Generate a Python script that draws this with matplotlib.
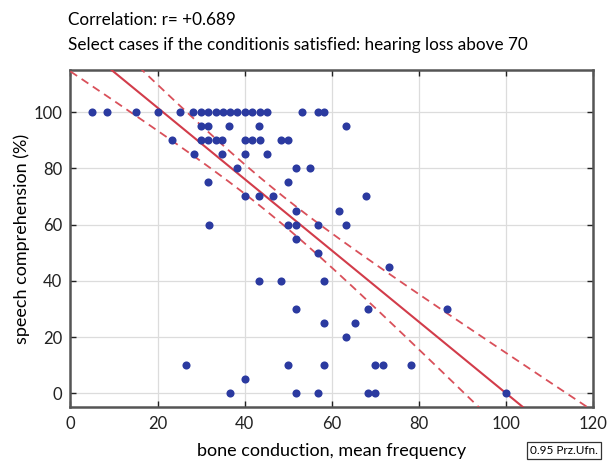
import numpy as np
import matplotlib
matplotlib.use("Agg")
import matplotlib.pyplot as plt

# bone conduction (x) values grouped by speech comprehension level (y)
rows = {
    100: [5.0, 8.3, 15.0, 20.0, 25.1, 28.1, 29.9, 31.6, 33.3, 35.0, 36.7, 38.3,
          40.0, 41.7, 43.4, 45.0, 53.2, 56.8, 58.3],
    95: [29.9, 31.6, 36.5, 43.3, 63.3],
    90: [23.4, 29.9, 31.6, 33.3, 34.9, 40.0, 41.7, 43.4, 48.4, 49.9],
    85: [28.4, 34.9, 40.0, 45.1],
    80: [38.3, 51.7, 54.9],
    75: [31.6, 49.9],
    70: [40.0, 43.3, 46.6, 67.8],
    65: [51.7, 61.7],
    60: [31.7, 49.9, 51.7, 56.8, 63.3],
    55: [51.7],
    50: [56.8],
    45: [73.2],
    40: [43.3, 48.4, 58.3],
    30: [51.7, 68.2, 86.5],
    25: [58.3, 65.2],
    20: [63.3],
    10: [26.6, 49.9, 58.3, 70.0, 71.7, 78.2],
    5: [40.0],
    0: [36.7, 51.7, 56.8, 68.2, 70.0, 99.9],
}
bone = np.array([x for y, xs in rows.items() for x in xs])
speech = np.array([y for y, xs in rows.items() for x in xs], dtype=float)

# regression line and 95% confidence band
fit_intercept = 127.0
fit_slope = -1.2705
band_center_x = 46.0
band_min_half = 5.0
band_spread = 0.062

x_ticks = [0, 20, 40, 60, 80, 100, 120]
y_ticks = [0, 20, 40, 60, 80, 100]
title1 = "Correlation: r= +0.689"
title2 = "Select cases if the conditionis satisfied: hearing loss above 70"

plt.rcParams['font.family'] = ['Lato', 'DejaVu Sans']

fig = plt.figure(figsize=(6.13, 4.65), dpi=100)
ax = fig.add_axes([0.1148, 0.1241, 0.968 - 0.1148, 0.8495 - 0.1241])

xs = np.linspace(0, 120, 300)
yhat = fit_intercept + fit_slope * xs
half = np.sqrt(band_min_half ** 2 + band_spread * (xs - band_center_x) ** 2)

ax.plot(xs, yhat, color='#d23c4a', lw=1.5, zorder=3)
ax.plot(xs, yhat + half, color='#d9505a', lw=1.3, ls=(0, (4.5, 3)), zorder=3)
ax.plot(xs, yhat - half, color='#d9505a', lw=1.3, ls=(0, (4.5, 3)), zorder=3)

ax.scatter(bone, speech, s=34, color='#2b3aa0', zorder=4, linewidths=0)

ax.set_xlim(0, 120)
ax.set_ylim(-5, 115)
ax.set_xticks(x_ticks)
ax.set_yticks(y_ticks)
ax.grid(True, color='#dcdcdc', lw=0.9)
ax.set_axisbelow(True)
ax.tick_params(direction='in', length=4, width=1, top=True, right=True,
               labelsize=12, colors='#222222', pad=6)
for sp in ax.spines.values():
    sp.set_color('#555555')
    sp.set_linewidth(1.8)

ax.set_xlabel("bone conduction, mean frequency", fontsize=13, labelpad=8)
ax.set_ylabel("speech comprehension (%)", fontsize=13, labelpad=2)

fig.text(0.111, 0.957, title1, fontsize=12.3, ha='left', va='center')
fig.text(0.111, 0.903, title2, fontsize=12.3, ha='left', va='center')

fig.text(0.9205, 0.0305, "0.95 Prz.Ufn.", fontsize=8.5, ha='center', va='center',
         bbox=dict(boxstyle='square,pad=0.25', fc='white', ec='#333333', lw=0.9))

fig.savefig("out.png", dpi=100)
